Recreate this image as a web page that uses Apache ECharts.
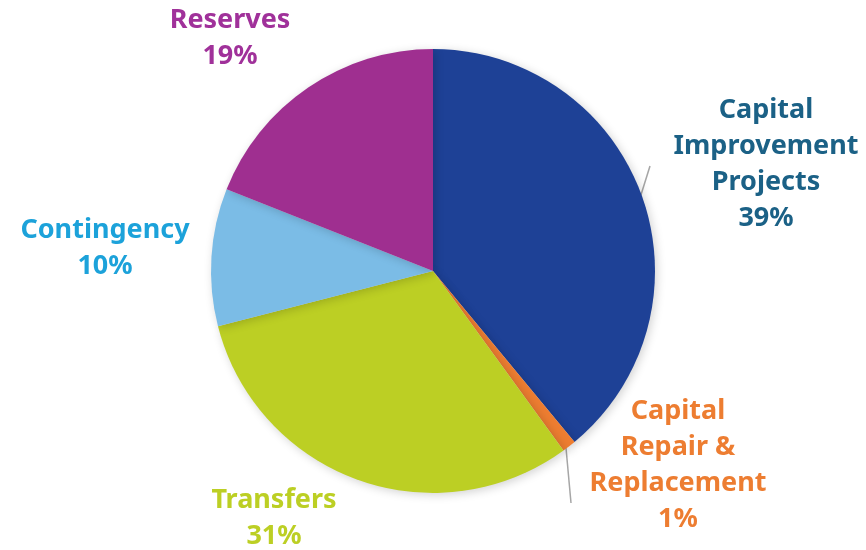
<!DOCTYPE html>
<html>
<head>
<meta charset="utf-8">
<script src="https://cdn.jsdelivr.net/npm/echarts@6/dist/echarts.min.js"></script>
<style>
  html, body { margin: 0; padding: 0; background: #fff; }
  #chart { width: 866px; height: 550px; }
</style>
</head>
<body>
<div id="chart"></div>
<script>
// data
const categories = ['Capital\nImprovement\nProjects', 'Capital\nRepair &\nReplacement', 'Transfers', 'Contingency', 'Reserves'];
const values = [39, 1, 31, 10, 19];
const sliceColors = ['#1e4196', '#ed7d31', '#bccf24', '#7bbce6', '#9f2f90'];
const labelColors = ['#1b6186', '#ed7d31', '#bccf24', '#1ca2da', '#a0319a'];

// where each label block sits (centre), and the short guide lines
const labelPos = [[766, 164], [678, 465], [274, 518], [105, 248], [230, 38]];
const guideLines = {
  0: [[640, 198], [650, 166]],
  1: [[566, 448], [571, 503]]
};

let mychart = echarts.init(document.getElementById('chart'));
let pieData = categories.map((name, i) => ({
  name: name,
  value: values[i],
  itemStyle: { color: sliceColors[i] },
  label: { color: labelColors[i] },
  labelLine: { show: !!guideLines[i] }
}));

let options = {
  animation: false,
  series: [
    {
      type: 'pie',
      center: [433, 271],
      radius: [0, 222],
      startAngle: 90,
      clockwise: true,
      itemStyle: {
        borderWidth: 0,
        shadowBlur: 10,
        shadowColor: 'rgba(0,0,0,0.18)',
        shadowOffsetX: 2,
        shadowOffsetY: 2
      },
      label: {
        show: true,
        position: 'outside',
        formatter: '{b}\n{c}%',
        fontFamily: 'Noto Sans',
        fontWeight: 'bold',
        fontSize: 27,
        lineHeight: 36,
        align: 'center',
        overflow: 'none',
        width: 300
      },
      labelLine: {
        lineStyle: { color: '#a6a6a6', width: 1.5 }
      },
      labelLayout: function (params) {
        const i = params.dataIndex;
        const p = labelPos[i];
        let out = {
          x: p[0],
          y: p[1],
          align: 'center',
          verticalAlign: 'middle'
        };
        if (guideLines[i]) out.labelLinePoints = [guideLines[i][0], guideLines[i][1], guideLines[i][1]];
        return out;
      },
      data: pieData
    }
  ]
};

mychart.setOption(options);
</script>
</body>
</html>
